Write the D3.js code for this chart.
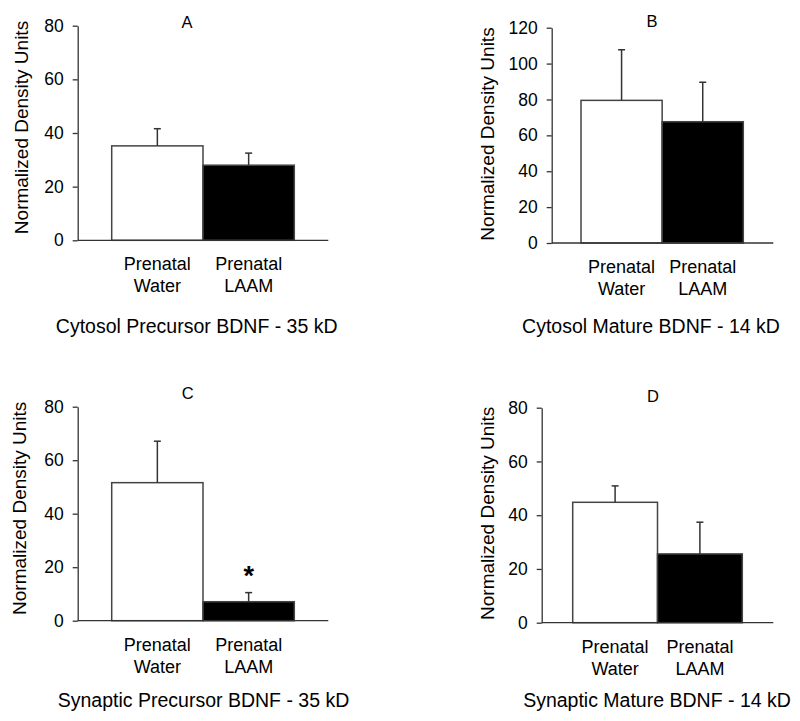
<!DOCTYPE html>
<html>
<head>
<meta charset="utf-8">
<script src="https://cdn.jsdelivr.net/npm/d3@7"></script>
<style>
  html, body { margin: 0; padding: 0; background: #fff; }
  svg { display: block; font-family: "Liberation Sans", Arial, sans-serif; }
</style>
</head>
<body>
<svg id="chart" width="800" height="721"></svg>
<script>
// ---- data ----
const categories = ["Prenatal Water", "Prenatal LAAM"];
const panelLetters = ["A", "B", "C", "D"];
const panelTitles = [
  "Cytosol Precursor BDNF - 35 kD",
  "Cytosol Mature BDNF - 14 kD",
  "Synaptic Precursor BDNF - 35 kD",
  "Synaptic Mature BDNF - 14 kD"
];
const waterMeans = [35.2, 79.5, 51.6, 44.8];
const laamMeans  = [28.0, 67.6, 7.1, 25.6];
const waterErr   = [6.4, 28.2, 15.5, 6.1];
const laamErr    = [4.5, 22.0, 3.4, 11.8];
const laamSignificant = [false, false, true, false];
const yMaxes = [80, 120, 80, 80];
const yTicks = [
  [0, 20, 40, 60, 80],
  [0, 20, 40, 60, 80, 100, 120],
  [0, 20, 40, 60, 80],
  [0, 20, 40, 60, 80]
];
const yAxisTitle = "Normalized Density Units";

// ---- layout (pixels) ----
const layouts = [
  { axisX: 77.7,  top: 25.7,  bottom: 240.3, xEnd: 328.3, barL: 111.7, barR: 294.3,
    titleX: 27.5, titleY: 127.5, letterX: 187, letterY: 28.3, subX: 196.7, subY: 333.3 },
  { axisX: 551.7, top: 27.7,  bottom: 243.0, xEnd: 773.3, barL: 581.0, barR: 743.3,
    titleX: 493.5, titleY: 134, letterX: 652, letterY: 27.3, subX: 651, subY: 333.3 },
  { axisX: 77.7,  top: 406.7, bottom: 620.7, xEnd: 328.3, barL: 111.7, barR: 294.3,
    titleX: 25.5, titleY: 508.3, letterX: 187.7, letterY: 399.3, subX: 203.5, subY: 706.7 },
  { axisX: 541.7, top: 407.7, bottom: 622.7, xEnd: 773.3, barL: 572.7, barR: 742.3,
    titleX: 493.5, titleY: 513.3, letterX: 653, letterY: 402.3, subX: 657, subY: 706.7 }
];

const fills = ["#ffffff", "#000000"];
const svg = d3.select("#chart");

panelLetters.forEach((letter, i) => {
  const L = layouts[i];
  const g = svg.append("g");
  const rows = categories.map((c, j) => ({
    cat: c,
    mean: j === 0 ? waterMeans[i] : laamMeans[i],
    err: j === 0 ? waterErr[i] : laamErr[i],
    sig: j === 1 && laamSignificant[i],
    fill: fills[j]
  }));

  const y = d3.scaleLinear().domain([0, yMaxes[i]]).range([L.bottom, L.top]);
  const x = d3.scaleBand().domain(categories).range([L.barL, L.barR]).paddingInner(0).paddingOuter(0);

  // bars
  g.selectAll("rect.bar").data(rows).enter().append("rect")
    .attr("class", "bar")
    .attr("x", d => x(d.cat))
    .attr("width", x.bandwidth())
    .attr("y", d => y(d.mean))
    .attr("height", d => y(0) - y(d.mean))
    .attr("fill", d => d.fill)
    .attr("stroke", "#444")
    .attr("stroke-width", 1.5);

  // error bars (upper only)
  const cap = 3.5;
  g.selectAll("line.err").data(rows).enter().append("line")
    .attr("x1", d => x(d.cat) + x.bandwidth() / 2)
    .attr("x2", d => x(d.cat) + x.bandwidth() / 2)
    .attr("y1", d => y(d.mean))
    .attr("y2", d => y(d.mean + d.err))
    .attr("stroke", "#333").attr("stroke-width", 1.5);
  g.selectAll("line.cap").data(rows).enter().append("line")
    .attr("x1", d => x(d.cat) + x.bandwidth() / 2 - cap)
    .attr("x2", d => x(d.cat) + x.bandwidth() / 2 + cap)
    .attr("y1", d => y(d.mean + d.err))
    .attr("y2", d => y(d.mean + d.err))
    .attr("stroke", "#333").attr("stroke-width", 1.5);

  // significance asterisk
  g.selectAll("text.sig").data(rows.filter(d => d.sig)).enter().append("text")
    .attr("x", d => x(d.cat) + x.bandwidth() / 2)
    .attr("y", d => y(d.mean + d.err) - 8)
    .attr("text-anchor", "middle")
    .attr("font-size", 27)
    .attr("font-weight", "bold")
    .text("*");

  // y axis
  const yAxis = d3.axisLeft(y).tickValues(yTicks[i]).tickSize(5).tickSizeOuter(0).tickPadding(9);
  const ya = g.append("g").attr("transform", `translate(${L.axisX},0)`).call(yAxis);
  ya.select(".domain").attr("stroke", "#333").attr("stroke-width", 1.3);
  ya.selectAll(".tick line").attr("stroke", "#333").attr("stroke-width", 1.3);
  ya.selectAll(".tick text").attr("font-size", 17.5).attr("fill", "#000")
    .attr("font-family", "Liberation Sans, Arial, sans-serif");

  // x axis baseline
  g.append("line")
    .attr("x1", L.axisX).attr("x2", L.xEnd)
    .attr("y1", y(0)).attr("y2", y(0))
    .attr("stroke", "#333").attr("stroke-width", 1.3);

  // category labels (two lines)
  rows.forEach(d => {
    const words = d.cat.split(" ");
    const t = g.append("text")
      .attr("text-anchor", "middle")
      .attr("font-size", 18)
      .attr("fill", "#000");
    words.forEach((w, k) => {
      t.append("tspan")
        .attr("x", x(d.cat) + x.bandwidth() / 2)
        .attr("y", y(0) + 30 + k * 22)
        .text(w);
    });
  });

  // y axis title
  g.append("text")
    .attr("transform", `translate(${L.titleX},${L.titleY}) rotate(-90)`)
    .attr("text-anchor", "middle")
    .attr("font-size", 19)
    .attr("fill", "#000")
    .text(yAxisTitle);

  // panel letter
  g.append("text")
    .attr("x", L.letterX).attr("y", L.letterY)
    .attr("text-anchor", "middle")
    .attr("font-size", 16.5)
    .attr("fill", "#000")
    .text(letter);

  // subtitle
  g.append("text")
    .attr("x", L.subX).attr("y", L.subY)
    .attr("text-anchor", "middle")
    .attr("font-size", 19.5)
    .attr("fill", "#000")
    .text(panelTitles[i]);
});
</script>
</body>
</html>
